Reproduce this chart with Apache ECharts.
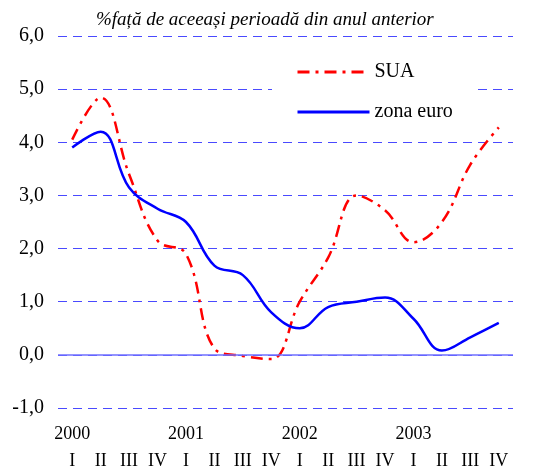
<!DOCTYPE html>
<html>
<head>
<meta charset="utf-8">
<script src="https://cdn.jsdelivr.net/npm/echarts@6/dist/echarts.min.js"></script>
<style>html,body{margin:0;padding:0;background:#fff}#c{width:535px;height:470px}</style>
</head>
<body>
<div id="c"></div>
<script>
var quarters = ['I','II','III','IV','I','II','III','IV','I','II','III','IV','I','II','III','IV'];
var years = ['2000','','','','2001','','','','2002','','','','2003','','',''];
var sua = [4.05, 4.84, 3.4, 2.15, 1.9, 0.12, -0.02, -0.08, 1.0, 1.83, 3.0, 2.72, 2.12, 2.5, 3.58, 4.28];
var zonaEuro = [3.9, 4.2, 3.15, 2.75, 2.5, 1.68, 1.5, 0.8, 0.5, 0.9, 1.0, 1.08, 0.68, 0.08, 0.33, 0.6];
var yTicks = {min: -1, max: 6, interval: 1};
var title = '%față de aceeași perioadă din anul anterior';

var font = '"Liberation Serif", "Times New Roman", serif';
var chart = echarts.init(document.getElementById('c'), null, {renderer: 'canvas'});
chart.setOption({
  animation: false,
  backgroundColor: '#fff',
  title: {
    text: title, left: 91, top: 5,
    textStyle: {fontFamily: font, fontStyle: 'italic', fontWeight: 'normal', fontSize: 19, color: '#000'}
  },
  grid: {left: 58, right: 22, top: 36, bottom: 62, containLabel: false},
  legend: {
    left: 272, top: 54, orient: 'vertical',
    backgroundColor: '#fff',
    padding: [8, 22, 8, 24],
    itemWidth: 72, itemHeight: 20, itemGap: 20,
    itemStyle: {opacity: 0},
    lineStyle: {width: 3},
    textStyle: {fontFamily: font, fontSize: 20, color: '#000'},
    data: ['SUA', 'zona euro']
  },
  xAxis: [{
    type: 'category', data: quarters, boundaryGap: true,
    axisLine: {show: false}, axisTick: {show: false}, splitLine: {show: false},
    axisLabel: {interval: 0, margin: 44, fontFamily: font, fontSize: 18, color: '#000'}
  }, {
    type: 'category', data: years, boundaryGap: true, position: 'bottom',
    axisLine: {show: false}, axisTick: {show: false}, splitLine: {show: false},
    axisLabel: {interval: 0, margin: 17, fontFamily: font, fontSize: 18, color: '#000'}
  }],
  yAxis: {
    type: 'value', min: yTicks.min, max: yTicks.max, interval: yTicks.interval,
    axisLine: {show: false}, axisTick: {show: false},
    axisLabel: {margin: 14, fontFamily: font, fontSize: 20, color: '#000',
      formatter: function (v) { return v.toFixed(1).replace('.', ','); }},
    splitLine: {show: true, lineStyle: {color: '#4a4aff', type: [9, 6], width: 1.2}}
  },
  series: [{
    name: 'SUA', type: 'line', data: sua, smooth: 0.4, symbol: 'none',
    lineStyle: {color: '#ff0000', width: 2.5, type: [12, 6, 3, 6]},
    itemStyle: {color: '#ff0000'},
    z: 3,
    markLine: {
      silent: true, symbol: 'none', label: {show: false},
      lineStyle: {color: '#6f6fff', type: 'solid', width: 1.5},
      data: [{yAxis: 0}]
    }
  }, {
    name: 'zona euro', type: 'line', data: zonaEuro, smooth: 0.4, symbol: 'none',
    lineStyle: {color: '#0000ff', width: 2.5, type: 'solid'},
    itemStyle: {color: '#0000ff'},
    z: 4
  }]
});
</script>
</body>
</html>
